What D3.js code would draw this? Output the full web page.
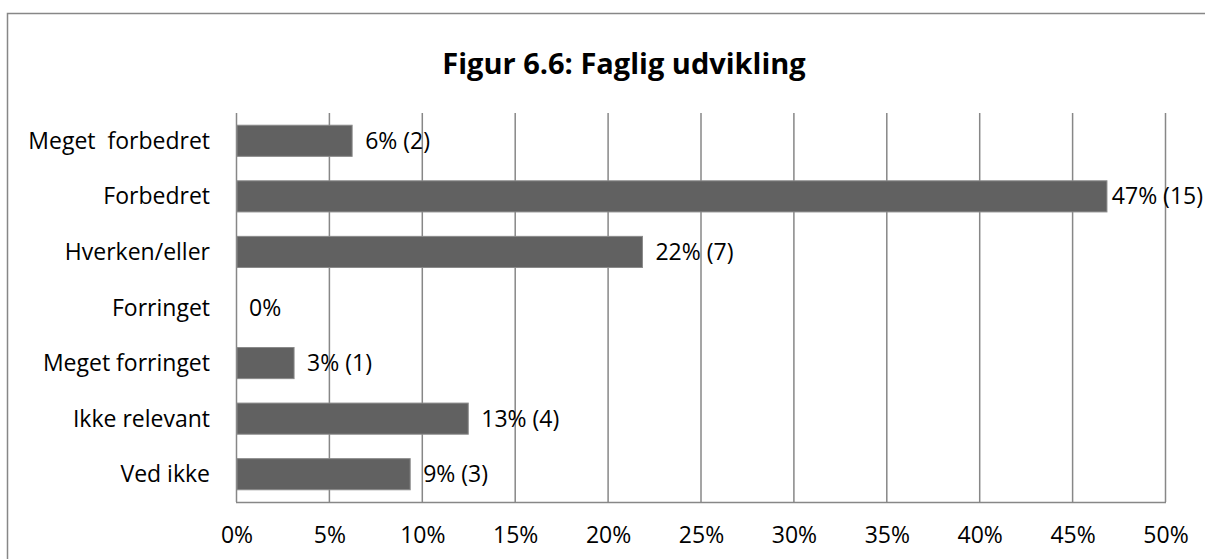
<!DOCTYPE html>
<html>
<head>
<meta charset="utf-8">
<title>Figur 6.6</title>
<style>
  body { margin: 0; background: #fff; }
  text { font-family: "Open Sans", sans-serif; fill: #000; }
</style>
</head>
<body>
<script src="https://cdn.jsdelivr.net/npm/d3@7"></script>
<script>
var categories = ["Meget  forbedret", "Forbedret", "Hverken/eller", "Forringet", "Meget forringet", "Ikke relevant", "Ved ikke"];
var percents = [6.25, 46.875, 21.875, 0, 3.125, 12.5, 9.375];
var labels = ["6% (2)", "47% (15)", "22% (7)", "0%", "3% (1)", "13% (4)", "9% (3)"];
var ticks = [0, 5, 10, 15, 20, 25, 30, 35, 40, 45, 50];

var width = 1205, height = 559;
var plotLeft = 236, plotRight = 1165, plotTop = 113, plotBottom = 502;
var gray = "#878787";
var fontSize = "23px";

var svg = d3.select("body").append("svg")
    .attr("width", width)
    .attr("height", height);

// outer frame
svg.append("rect")
    .attr("x", 7.5).attr("y", 13.5)
    .attr("width", 1220).attr("height", 600)
    .attr("fill", "none")
    .attr("stroke", gray)
    .attr("stroke-width", 1.5);

svg.append("text")
    .attr("x", 624).attr("y", 74)
    .attr("text-anchor", "middle")
    .style("font-size", "29px")
    .style("font-weight", "bold")
    .text("Figur 6.6: Faglig udvikling");

var x = d3.scaleLinear().domain([0, 50]).range([plotLeft, plotRight]);
var y = d3.scaleBand().domain(categories).range([plotTop, plotBottom]).paddingInner(0.44).paddingOuter(0.22);

// gridlines
svg.append("g").selectAll("line")
    .data(ticks)
    .join("line")
    .attr("x1", d => x(d) + 0.5).attr("x2", d => x(d) + 0.5)
    .attr("y1", plotTop).attr("y2", plotBottom)
    .attr("stroke", gray)
    .attr("stroke-width", 1.5);

svg.append("line")
    .attr("x1", plotLeft).attr("x2", plotRight + 1)
    .attr("y1", plotBottom + 0.5).attr("y2", plotBottom + 0.5)
    .attr("stroke", gray)
    .attr("stroke-width", 1.5);

// tick labels
svg.append("g").selectAll("text")
    .data(ticks)
    .join("text")
    .attr("x", d => x(d) + 1)
    .attr("y", 543)
    .attr("text-anchor", "middle")
    .style("font-size", fontSize)
    .text(d => d + "%");

// bars
svg.append("g").selectAll("rect")
    .data(d3.range(categories.length).filter(i => percents[i] > 0))
    .join("rect")
    .attr("x", plotLeft + 1)
    .attr("y", i => y(categories[i]))
    .attr("width", i => x(percents[i]) - plotLeft - 1)
    .attr("height", y.bandwidth())
    .attr("fill", "#616161")
    .attr("stroke", "#8a8a8a")
    .attr("stroke-width", 1);

// category labels
svg.append("g").selectAll("text")
    .data(categories)
    .join("text")
    .attr("x", 210)
    .attr("y", d => y(d) + y.bandwidth() / 2 + 8)
    .attr("text-anchor", "end")
    .style("white-space", "pre")
    .style("font-size", fontSize)
    .text(d => d);

// value labels (pulled in if they would run past the right edge)
svg.append("g").selectAll("text")
    .data(labels)
    .join("text")
    .attr("y", (d, i) => y(categories[i]) + y.bandwidth() / 2 + 8)
    .style("font-size", fontSize)
    .text(d => d)
    .attr("x", function (d, i) {
        var w = this.getComputedTextLength();
        return Math.min(x(percents[i]) + 13, width - 2 - w);
    });
</script>
</body>
</html>
